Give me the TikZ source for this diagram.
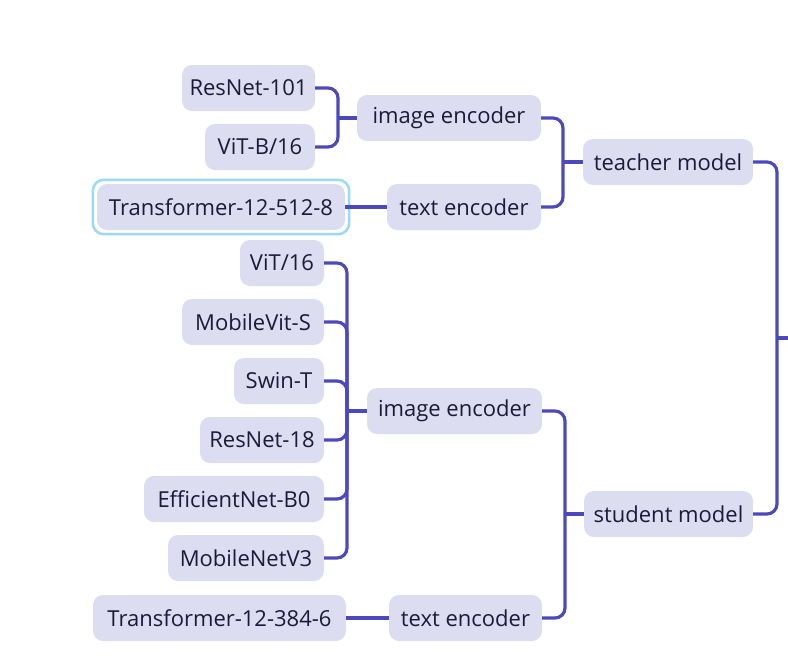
\documentclass[tikz,border=0pt]{standalone}
\usepackage{fontspec}
\setmainfont{Open Sans}
\definecolor{boxfill}{HTML}{DDDDF1}
\definecolor{conncol}{HTML}{4D49BD}
\definecolor{txtcol}{HTML}{1C1A3A}
\definecolor{hlcol}{HTML}{98DAF8}
\begin{document}
\begin{tikzpicture}[x=1pt,y=1pt,
  box/.style={fill=boxfill, rounded corners=10pt, minimum height=46pt, inner sep=0pt,
    text=txtcol, font=\fontsize{22}{26}\selectfont},
  conn/.style={draw=conncol, line width=3.2pt, rounded corners=10pt},
  hl/.style={draw=hlcol, line width=2.5pt, rounded corners=11pt}]
\useasboundingbox (0,0) rectangle (788,-659);
% teacher branch
\node[box, minimum width=133pt] (r101) at (248.5,-88) {ResNet-101};
\node[box, minimum width=110pt] (vitb) at (260,-147) {ViT-B/16};
\node[box, minimum width=184pt] (ie1) at (449,-118) {image encoder};
\node[box, minimum width=248pt] (t1) at (221,-207) {Transformer-12-512-8};
\node[box, minimum width=154pt] (te1) at (464,-207) {text encoder};
\node[box, minimum width=170pt] (tm) at (668,-162) {teacher model};
% student branch
\node[box, minimum width=84pt] (vit16) at (282,-263) {ViT/16};
\node[box, minimum width=142pt] (mvs) at (253,-322) {MobileVit-S};
\node[box, minimum width=90pt] (swin) at (279,-381) {Swin-T};
\node[box, minimum width=124pt] (r18) at (262,-440) {ResNet-18};
\node[box, minimum width=180pt] (effb0) at (234,-499) {EfficientNet-B0};
\node[box, minimum width=156pt] (mnv3) at (246,-558) {MobileNetV3};
\node[box, minimum width=175pt] (ie2) at (454.5,-411) {image encoder};
\node[box, minimum width=253pt] (t2) at (219.5,-618) {Transformer-12-384-6};
\node[box, minimum width=153pt] (te2) at (465.5,-618) {text encoder};
\node[box, minimum width=169pt] (sm) at (668.5,-514) {student model};
% highlight
\draw[hl] ([shift={(-4,4)}]t1.north west) rectangle ([shift={(4,-4)}]t1.south east);
% junctions
\coordinate (j1) at (338,-118);
\coordinate (jt) at (563,-162);
\coordinate (j2) at (347,-411);
\coordinate (js) at (565,-514);
\coordinate (jr) at (777,-338);
\coordinate (rootend) at (790,-338);
% connectors
\draw[conn] (r101.east) -| (j1);
\draw[conn] (vitb.east) -| (j1);
\draw[conn] (j1) -- (ie1.west);
\draw[conn] (t1.east) -- (te1.west);
\draw[conn] (ie1.east) -| (jt);
\draw[conn] (te1.east) -| (jt);
\draw[conn] (jt) -- (tm.west);
\foreach \n in {vit16,mvs,swin,r18,effb0,mnv3} {\draw[conn] (\n.east) -| (j2);}
\draw[conn] (j2) -- (ie2.west);
\draw[conn] (t2.east) -- (te2.west);
\draw[conn] (ie2.east) -| (js);
\draw[conn] (te2.east) -| (js);
\draw[conn] (js) -- (sm.west);
\draw[conn] (tm.east) -| (jr);
\draw[conn] (sm.east) -| (jr);
\draw[conn] (jr) -- (rootend);
\end{tikzpicture}
\end{document}
